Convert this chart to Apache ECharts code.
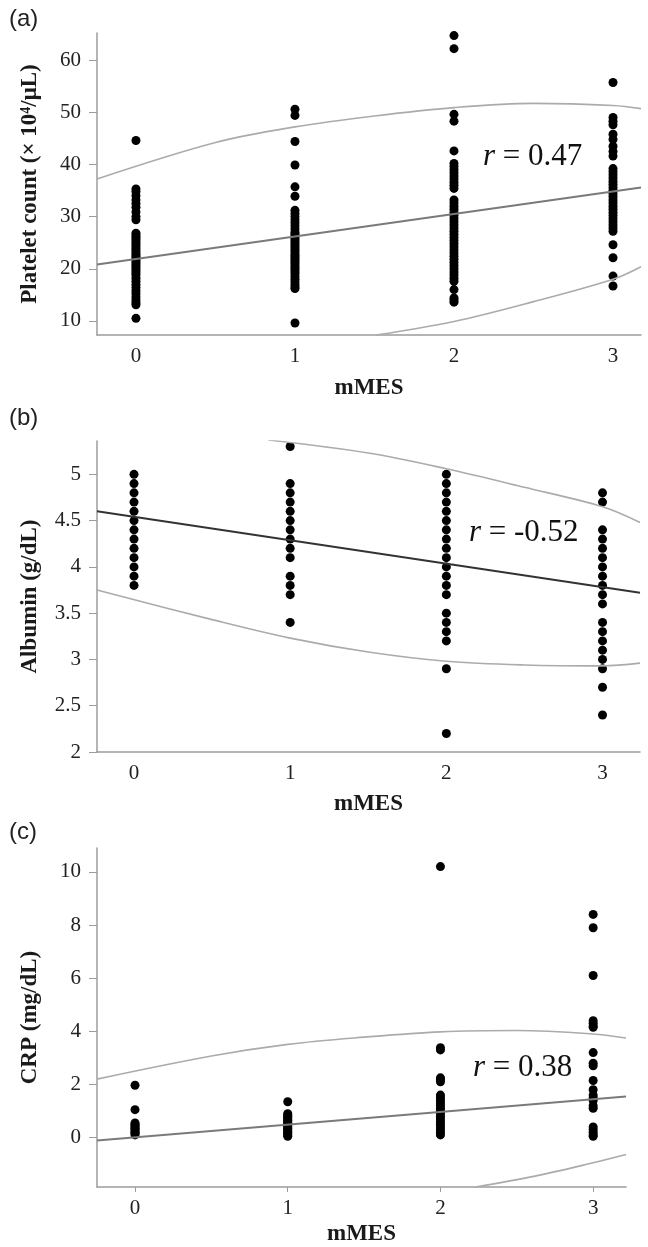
<!DOCTYPE html>
<html>
<head>
<meta charset="utf-8">
<script src="https://cdn.jsdelivr.net/npm/echarts@6.0.0/dist/echarts.min.js"></script>
<style>
html, body { margin: 0; padding: 0; background: #fff; }
#chart { width: 648px; height: 1247px; }
</style>
</head>
<body>
<div id="chart"></div>
<script>
// ---------------- data ----------------
var mmesScores = [0, 1, 2, 3];

// (a) platelet count (x10^4/uL) per mMES
var platelet0 = [44.6, 35.3, 34.8, 34.0, 33.2, 32.5, 31.8, 30.9, 30.0, 29.4, 26.8, 26.4, 26.0, 25.6, 25.2, 24.8, 24.4, 24.0, 23.6, 23.2, 22.8, 22.4, 22.0, 21.6, 21.2, 20.8, 20.4, 20.0, 19.6, 19.2, 18.8, 18.2, 17.6, 17.0, 16.4, 15.8, 15.2, 14.6, 14.0, 13.5, 13.1, 10.5];
var platelet1 = [50.6, 49.4, 44.4, 39.9, 35.7, 33.9, 31.2, 30.6, 30.0, 29.4, 28.8, 28.2, 27.6, 27.0, 26.6, 26.2, 25.8, 25.4, 25.0, 24.6, 24.2, 23.8, 23.4, 23.0, 22.6, 22.2, 21.8, 21.4, 21.0, 20.6, 20.2, 19.8, 19.4, 19.0, 18.5, 18.0, 17.5, 17.0, 16.5, 16.2, 9.6];
var platelet2 = [64.7, 62.2, 49.6, 48.3, 42.6, 40.2, 39.6, 39.0, 38.4, 37.8, 37.2, 36.6, 36.0, 35.4, 33.2, 32.6, 32.0, 31.4, 30.8, 30.2, 29.6, 29.0, 28.4, 27.8, 27.2, 26.6, 26.0, 25.4, 24.8, 24.2, 23.6, 23.0, 22.4, 21.8, 21.2, 20.6, 20.0, 19.4, 18.8, 18.2, 17.6, 16.0, 14.4, 14.0, 13.6];
var platelet3 = [55.7, 49.0, 48.3, 47.6, 45.8, 44.8, 43.5, 42.5, 41.6, 39.2, 38.6, 38.0, 37.4, 36.8, 36.2, 35.6, 35.0, 34.4, 33.8, 33.2, 32.6, 32.0, 31.4, 30.8, 30.2, 29.6, 29.0, 28.4, 27.8, 27.2, 24.6, 22.1, 18.6, 16.7];
var plateletFit = [[-0.245, 20.8], [3.176, 35.6]];
var plateletUpper = [[-0.245, 37.2], [0.5, 44.2], [1, 47.2], [1.5, 49.3], [2, 50.9], [2.5, 51.7], [3, 51.3], [3.176, 50.7]];
var plateletLower = [[1.51, 7.3], [2, 9.9], [2.5, 13.7], [3, 18.0], [3.176, 20.4]];
var plateletTicks = [10, 20, 30, 40, 50, 60];

// (b) albumin (g/dL) per mMES
var albumin0 = [5.0, 4.9, 4.8, 4.7, 4.6, 4.5, 4.4, 4.3, 4.2, 4.1, 4.0, 3.9, 3.8];
var albumin1 = [5.3, 4.9, 4.8, 4.7, 4.6, 4.5, 4.4, 4.3, 4.2, 4.1, 3.9, 3.8, 3.7, 3.4];
var albumin2 = [5.0, 4.9, 4.8, 4.7, 4.6, 4.5, 4.4, 4.3, 4.2, 4.1, 4.0, 3.9, 3.8, 3.7, 3.5, 3.4, 3.3, 3.2, 2.9, 2.2];
var albumin3 = [4.8, 4.7, 4.4, 4.3, 4.2, 4.1, 4.0, 3.9, 3.8, 3.7, 3.6, 3.4, 3.3, 3.2, 3.1, 3.0, 2.9, 2.7, 2.4];
var albuminFit = [[-0.237, 4.60], [3.24, 3.72]];
var albuminUpper = [[0.86, 5.37], [1.5, 5.23], [2, 5.06], [2.5, 4.86], [3, 4.65], [3.24, 4.48]];
var albuminLower = [[-0.237, 3.75], [0.5, 3.43], [1, 3.23], [1.5, 3.08], [2, 2.98], [2.5, 2.94], [3, 2.93], [3.24, 2.96]];
var albuminTicks = [2, 2.5, 3, 3.5, 4, 4.5, 5];

// (c) CRP (mg/dL) per mMES
var crp0 = [1.97, 1.05, 0.55, 0.5, 0.45, 0.4, 0.35, 0.3, 0.25, 0.2, 0.15, 0.1];
var crp1 = [1.35, 0.9, 0.85, 0.8, 0.75, 0.7, 0.65, 0.6, 0.55, 0.5, 0.45, 0.4, 0.35, 0.3, 0.25, 0.2, 0.15, 0.1, 0.05];
var crp2 = [10.2, 3.38, 3.3, 2.25, 2.2, 2.1, 1.6, 1.5, 1.4, 1.3, 1.2, 1.1, 1.0, 0.9, 0.8, 0.7, 0.6, 0.5, 0.4, 0.3, 0.2, 0.1];
var crp3 = [8.4, 7.9, 6.1, 4.4, 4.3, 4.2, 4.15, 3.2, 2.8, 2.7, 2.15, 1.8, 1.6, 1.5, 1.4, 1.2, 1.1, 0.4, 0.3, 0.2, 0.1, 0.05];
var crpFit = [[-0.249, -0.11], [3.215, 1.55]];
var crpUpper = [[-0.249, 2.2], [0.5, 3.07], [1, 3.51], [1.5, 3.78], [2, 3.98], [2.5, 4.03], [3, 3.9], [3.215, 3.75]];
var crpLower = [[2.23, -1.86], [2.62, -1.45], [3, -0.95], [3.215, -0.64]];
var crpTicks = [0, 2, 4, 6, 8, 10];

var rValues = ['0.47', '-0.52', '0.38'];

// ---------------- helpers ----------------
var chart = echarts.init(document.getElementById('chart'));
var serif = '"Liberation Serif", "DejaVu Serif", serif';
var axisGray = '#9c9c9c';

function toPoints(groups) {
    var pts = [];
    groups.forEach(function (vals, i) {
        vals.forEach(function (v) { pts.push([mmesScores[i], v]); });
    });
    return pts;
}

function makeX(idx, min, max, gap, showTick) {
    return {
        type: 'value', gridIndex: idx, min: min, max: max,
        name: 'mMES', nameLocation: 'middle', nameGap: gap,
        nameTextStyle: { fontFamily: serif, fontWeight: 'bold', fontSize: 23, color: '#1a1a1a' },
        axisLine: { show: true, onZero: false, lineStyle: { color: axisGray, width: 1.5 } },
        axisTick: { show: showTick, customValues: mmesScores, length: 5, lineStyle: { color: axisGray } },
        axisLabel: { customValues: mmesScores, margin: 11, fontFamily: serif, fontSize: 21, color: '#222' },
        splitLine: { show: false }
    };
}

function makeY(idx, min, max, ticks, name) {
    return {
        type: 'value', gridIndex: idx, min: min, max: max,
        name: name, nameLocation: 'middle', nameGap: 55, nameRotate: 90,
        nameTextStyle: { fontFamily: serif, fontWeight: 'bold', fontSize: 23, color: '#1a1a1a' },
        axisLine: { show: true, onZero: false, lineStyle: { color: axisGray, width: 1.5 } },
        axisTick: { show: true, customValues: ticks, length: 8, lineStyle: { color: axisGray } },
        axisLabel: { customValues: ticks, margin: 16, fontFamily: serif, fontSize: 21, color: '#222' },
        splitLine: { show: false }
    };
}

function dots(idx, data) {
    return { type: 'scatter', xAxisIndex: idx, yAxisIndex: idx, data: data,
        symbolSize: 9, itemStyle: { color: '#000', opacity: 1 }, z: 2 };
}

function curve(idx, data, color, width, smooth) {
    return { type: 'line', xAxisIndex: idx, yAxisIndex: idx, data: data,
        showSymbol: false, smooth: smooth, clip: true,
        lineStyle: { color: color, width: width }, z: 3 };
}

function rText(x, y, val) {
    return {
        type: 'text', x: x, y: y,
        style: {
            text: '{i|r} = ' + val, fontFamily: serif, fontSize: 31, fill: '#111',
            verticalAlign: 'middle',
            rich: { i: { fontStyle: 'italic', fontFamily: serif, fontSize: 31 } }
        }
    };
}

function panelLabel(y, txt) {
    return { type: 'text', x: 9, y: y,
        style: { text: txt, fontFamily: '"Liberation Sans", Arial, sans-serif', fontSize: 24, fill: '#222', verticalAlign: 'middle' } };
}

// ---------------- option ----------------
var option = {
    animation: false,
    backgroundColor: '#fff',
    grid: [
        { left: 97, top: 33, width: 544, height: 302 },
        { left: 97, top: 441, width: 543, height: 311 },
        { left: 97, top: 848, width: 529, height: 343 }
    ],
    xAxis: [
        makeX(0, -0.245, 3.176, 42, false),
        makeX(1, -0.237, 3.24, 41, false),
        makeX(2, -0.249, 3.215, 36, true)
    ],
    yAxis: [
        makeY(0, 7.3, 65.2, plateletTicks, 'Platelet count (× 10⁴/μL)'),
        makeY(1, 2, 5.36, albuminTicks, 'Albumin (g/dL)'),
        makeY(2, -1.86, 10.9, crpTicks, 'CRP (mg/dL)')
    ],
    series: [
        dots(0, toPoints([platelet0, platelet1, platelet2, platelet3])),
        curve(0, plateletFit, '#7a7a7a', 2, false),
        curve(0, plateletUpper, '#ababab', 1.6, 0.35),
        curve(0, plateletLower, '#ababab', 1.6, 0.35),

        dots(1, toPoints([albumin0, albumin1, albumin2, albumin3])),
        curve(1, albuminFit, '#333', 2, false),
        curve(1, albuminUpper, '#ababab', 1.6, 0.35),
        curve(1, albuminLower, '#ababab', 1.6, 0.35),

        dots(2, toPoints([crp0, crp1, crp2, crp3])),
        curve(2, crpFit, '#7a7a7a', 2, false),
        curve(2, crpUpper, '#ababab', 1.6, 0.35),
        curve(2, crpLower, '#ababab', 1.6, 0.35)
    ],
    graphic: [
        panelLabel(19, '(a)'),
        panelLabel(418, '(b)'),
        panelLabel(832, '(c)'),
        rText(483, 157, rValues[0]),
        rText(469, 533, rValues[1]),
        rText(473, 1068, rValues[2])
    ]
};

chart.setOption(option);
</script>
</body>
</html>
